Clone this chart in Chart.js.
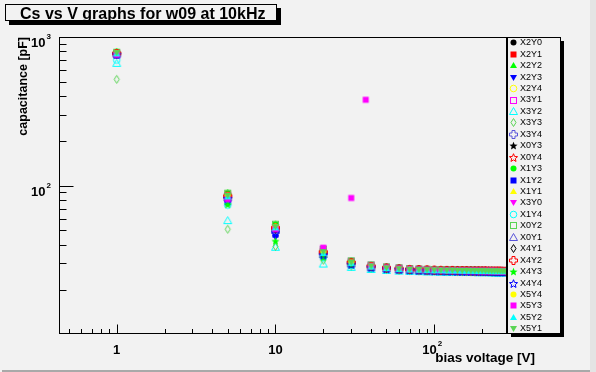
<!DOCTYPE html>
<html><head><meta charset="utf-8">
<script src="https://cdn.jsdelivr.net/npm/chart.js@4"></script>
<style>
html,body{margin:0;padding:0;background:#f2f2f2;}
#wrap{position:relative;width:596px;height:372px;overflow:hidden;}
canvas{display:block;}
</style></head><body>
<div id="wrap"><canvas id="c" width="596" height="372"></canvas></div>
<script>
// ---------------- data ----------------
const chartTitle = "Cs vs V graphs for w09 at 10kHz";
const xTitle = "bias voltage [V]";
const yTitle = "capacitance [pF]";

const voltages = [1,5,10,20,30,40,50,60,70,80,90,100,110,120,130,140,150,160,170,180,190,200,210,220,230,240,250,260,270,280];
const voltagesX5Y3 = [1,5,10,20,30,37,40,50,60,70,80,90,100,110,120,130,140,150,160,170,180,190,200,210,220,230,240,250,260,270,280];

const seriesNames = ["X2Y0","X2Y1","X2Y2","X2Y3","X2Y4","X3Y1","X3Y2","X3Y3","X3Y4","X0Y3","X0Y4","X1Y3","X1Y2","X1Y1","X3Y0","X1Y4","X0Y2","X0Y1","X4Y1","X4Y2","X4Y3","X4Y4","X5Y4","X5Y3","X5Y2","X5Y1"];

const X2Y0 = [775,86,53,36.0,30.5,28.9,28.1,27.7,27.5,27.3,27.2,27.1,27.0,27.0,26.9,26.9,26.9,26.8,26.8,26.8,26.8,26.7,26.7,26.7,26.7,26.7,26.6,26.6,26.6,26.6];
const X2Y1 = [780,88,54,36.5,30.6,28.8,27.9,27.4,27.1,26.9,26.8,26.7,26.6,26.6,26.5,26.5,26.5,26.4,26.4,26.4,26.4,26.3,26.3,26.3,26.3,26.3,26.3,26.2,26.2,26.2];
const X2Y2 = [800,90,55,37.0,31.0,29.0,28.2,27.8,27.5,27.4,27.3,27.2,27.1,27.1,27.0,27.0,27.0,26.9,26.9,26.9,26.9,26.8,26.8,26.8,26.8,26.8,26.7,26.7,26.7,26.7];
const X2Y3 = [760,76,45,33.2,29.0,27.8,27.3,27.0,26.8,26.7,26.6,26.5,26.5,26.4,26.4,26.4,26.3,26.3,26.3,26.3,26.2,26.2,26.2,26.2,26.2,26.1,26.1,26.1,26.1,26.1];
const X2Y4 = [770,84,52,35.5,30.2,28.6,27.9,27.5,27.3,27.2,27.1,27.0,27.0,26.9,26.9,26.8,26.8,26.8,26.8,26.7,26.7,26.7,26.7,26.6,26.6,26.6,26.6,26.6,26.5,26.5];
const X3Y1 = [760,82,54,37.5,31.0,29.2,28.3,27.9,27.6,27.4,27.3,27.2,27.2,27.1,27.1,27.0,27.0,27.0,26.9,26.9,26.9,26.9,26.8,26.8,26.8,26.8,26.8,26.7,26.7,26.7];
const X3Y2 = [665,58.2,38.5,29.7,28.2,27.3,26.9,26.6,26.5,26.4,26.3,26.3,26.2,26.2,26.2,26.1,26.1,26.1,26.1,26.0,26.0,26.0,26.0,26.0,25.9,25.9,25.9,25.9,25.9,25.9];
const X3Y3 = [519,50.9,39.0,31.5,28.8,27.8,27.3,27.0,26.9,26.8,26.7,26.7,26.6,26.6,26.6,26.5,26.5,26.5,26.5,26.4,26.4,26.4,26.4,26.4,26.3,26.3,26.3,26.3,26.3,26.3];
const X3Y4 = [765,83,50,34.8,29.9,28.4,27.8,27.4,27.2,27.0,26.9,26.9,26.8,26.8,26.8,26.7,26.7,26.7,26.6,26.6,26.6,26.6,26.6,26.5,26.5,26.5,26.5,26.5,26.5,26.4];
const X0Y3 = [785,87,54,36.2,30.7,28.9,28.1,27.7,27.4,27.3,27.2,27.1,27.1,27.0,27.0,26.9,26.9,26.9,26.9,26.8,26.8,26.8,26.8,26.7,26.7,26.7,26.7,26.7,26.6,26.6];
const X0Y4 = [770,85,52,35.8,30.4,28.7,28.0,27.6,27.4,27.2,27.1,27.0,27.0,26.9,26.9,26.9,26.8,26.8,26.8,26.7,26.7,26.7,26.7,26.7,26.6,26.6,26.6,26.6,26.6,26.5];
const X1Y3 = [795,89,55,37.0,31.2,29.2,28.3,27.9,27.6,27.4,27.3,27.2,27.2,27.1,27.1,27.0,27.0,27.0,27.0,26.9,26.9,26.9,26.9,26.8,26.8,26.8,26.8,26.8,26.7,26.7];
const X1Y2 = [755,77,47,33.8,29.3,28.0,27.4,27.1,26.9,26.8,26.7,26.6,26.6,26.5,26.5,26.5,26.4,26.4,26.4,26.4,26.3,26.3,26.3,26.3,26.3,26.2,26.2,26.2,26.2,26.2];
const X1Y1 = [775,85,53,36.0,30.4,28.8,28.0,27.6,27.4,27.2,27.1,27.0,27.0,26.9,26.9,26.9,26.8,26.8,26.8,26.8,26.7,26.7,26.7,26.7,26.6,26.6,26.6,26.6,26.6,26.6];
const X3Y0 = [790,87,53,36.6,30.8,29.0,28.2,27.8,27.5,27.3,27.2,27.1,27.1,27.0,27.0,26.9,26.9,26.9,26.9,26.8,26.8,26.8,26.8,26.8,26.7,26.7,26.7,26.7,26.7,26.6];
const X1Y4 = [700,74,50,33.0,29.0,27.8,27.2,26.9,26.7,26.6,26.5,26.4,26.4,26.3,26.3,26.3,26.2,26.2,26.2,26.2,26.1,26.1,26.1,26.1,26.1,26.0,26.0,26.0,26.0,26.0];
const X0Y2 = [790,89,55,37.2,31.2,29.3,28.4,28.0,27.7,27.5,27.4,27.3,27.2,27.2,27.1,27.1,27.1,27.0,27.0,27.0,27.0,26.9,26.9,26.9,26.9,26.9,26.8,26.8,26.8,26.8];
const X0Y1 = [770,83,50,34.5,29.8,28.3,27.7,27.3,27.1,27.0,26.9,26.8,26.8,26.7,26.7,26.7,26.6,26.6,26.6,26.6,26.5,26.5,26.5,26.5,26.5,26.4,26.4,26.4,26.4,26.4];
const X4Y1 = [770,84,51,35.2,30.1,28.5,27.8,27.5,27.2,27.1,27.0,26.9,26.9,26.8,26.8,26.8,26.7,26.7,26.7,26.7,26.6,26.6,26.6,26.6,26.6,26.5,26.5,26.5,26.5,26.5];
const X4Y2 = [775,85,52,35.6,30.3,28.6,27.9,27.5,27.3,27.2,27.1,27.0,26.9,26.9,26.9,26.8,26.8,26.8,26.7,26.7,26.7,26.7,26.7,26.6,26.6,26.6,26.6,26.6,26.5,26.5];
const X4Y3 = [770,75,42.5,33.0,29.4,28.2,27.6,27.3,27.1,27.0,26.9,26.8,26.8,26.7,26.7,26.7,26.6,26.6,26.6,26.6,26.5,26.5,26.5,26.5,26.5,26.4,26.4,26.4,26.4,26.4];
const X4Y4 = [765,82,48,34.2,29.6,28.2,27.6,27.3,27.1,26.9,26.8,26.7,26.7,26.6,26.6,26.6,26.5,26.5,26.5,26.5,26.4,26.4,26.4,26.4,26.4,26.3,26.3,26.3,26.3,26.3];
const X5Y4 = [780,86,53,36.2,30.5,28.8,28.0,27.6,27.4,27.2,27.1,27.0,27.0,26.9,26.9,26.9,26.8,26.8,26.8,26.8,26.7,26.7,26.7,26.7,26.7,26.6,26.6,26.6,26.6,26.6];
const X5Y3 = [760,81,51,38.2,82.6,378,28.7,28.0,27.6,27.4,27.2,27.1,27.0,26.9,26.9,26.8,26.8,26.8,26.7,26.7,26.7,26.7,26.6,26.6,26.6,26.6,26.6,26.5,26.5,26.5,26.5];
const X5Y2 = [770,84,52,35.0,30.0,28.4,27.7,27.3,27.1,27.0,26.9,26.8,26.8,26.7,26.7,26.7,26.6,26.6,26.6,26.5,26.5,26.5,26.5,26.5,26.4,26.4,26.4,26.4,26.4,26.4];
const X5Y1 = [785,86,53,36.0,30.5,28.8,28.0,27.6,27.4,27.3,27.2,27.1,27.0,27.0,27.0,26.9,26.9,26.9,26.8,26.8,26.8,26.8,26.7,26.7,26.7,26.7,26.7,26.6,26.6,26.6];

const seriesValues = [X2Y0,X2Y1,X2Y2,X2Y3,X2Y4,X3Y1,X3Y2,X3Y3,X3Y4,X0Y3,X0Y4,X1Y3,X1Y2,X1Y1,X3Y0,X1Y4,X0Y2,X0Y1,X4Y1,X4Y2,X4Y3,X4Y4,X5Y4,X5Y3,X5Y2,X5Y1];
const seriesVoltages = seriesNames.map(n => n === "X5Y3" ? voltagesX5Y3 : voltages);

// axis ticks
const xMajorTicks = [1, 10, 100];
const xMajorLabels = ["1", "10", "10^2"];
const xMinorTicks = [0.5,0.6,0.7,0.8,0.9,2,3,4,5,6,7,8,9,20,30,40,50,60,70,80,90,200];
const yMajorTicks = [100, 1000];
const yMajorLabels = ["10^2", "10^3"];
const yMinorTicks = [20,30,40,50,60,70,80,90,200,300,400,500,600,700,800,900];

// ---------------- styles ----------------
const rootColors = ['#000000','#ff0000','#00ff00','#0000ff','#ffff00','#ff00ff','#00ffff','#59d454','#5954d9'];
const rootMarkers = ['fcircle','fsquare','ftriup','ftridown','ocircle','osquare','otriup','odiamond','ocross','fstar','ostar'];
const FONT = '"Liberation Sans", Arial, Helvetica, sans-serif';

function makeMarker(type, color){
  const s = 11, c = document.createElement('canvas');
  c.width = s; c.height = s;
  const g = c.getContext('2d');
  const m = 5.5;
  g.fillStyle = color; g.strokeStyle = color; g.lineWidth = 1;
  g.beginPath();
  const star = (ro, ri) => {
    for (let k = 0; k < 10; k++) {
      const r = k % 2 ? ri : ro;
      const a = -Math.PI/2 + k*Math.PI/5;
      const px = m + r*Math.cos(a), py = m + 0.5 + r*Math.sin(a);
      if (k === 0) g.moveTo(px, py); else g.lineTo(px, py);
    }
    g.closePath();
  };
  switch(type){
    case 'fcircle': g.arc(m, m, 3, 0, 2*Math.PI); g.fill(); break;
    case 'fsquare': g.fillRect(2.5, 2.5, 6, 6); break;
    case 'ftriup': g.moveTo(m, 2); g.lineTo(9, 8); g.lineTo(2, 8); g.closePath(); g.fill(); break;
    case 'ftridown': g.moveTo(2, 3); g.lineTo(9, 3); g.lineTo(m, 9); g.closePath(); g.fill(); break;
    case 'ocircle': g.arc(m, m, 3.3, 0, 2*Math.PI); g.stroke(); break;
    case 'osquare': g.strokeRect(2.5, 2.5, 6, 6); break;
    case 'otriup': g.moveTo(m, 1.5); g.lineTo(9.5, 8.5); g.lineTo(1.5, 8.5); g.closePath(); g.stroke(); break;
    case 'odiamond': g.moveTo(m, 1.5); g.lineTo(8, m); g.lineTo(m, 9.5); g.lineTo(3, m); g.closePath(); g.stroke(); break;
    case 'ocross': {
      const a = 1.5, r = 4;
      const pts = [[-a,-r],[a,-r],[a,-a],[r,-a],[r,a],[a,a],[a,r],[-a,r],[-a,a],[-r,a],[-r,-a],[-a,-a]];
      pts.forEach((p,k)=>{ if(k===0) g.moveTo(m+p[0], m+p[1]); else g.lineTo(m+p[0], m+p[1]); });
      g.closePath(); g.stroke(); break;
    }
    case 'fstar': star(4.3, 1.9); g.fill(); break;
    case 'ostar': star(4.3, 1.9); g.stroke(); break;
  }
  return c;
}

const N = seriesNames.length;
const markerImgs = seriesNames.map((n, i) => makeMarker(rootMarkers[i % 11], rootColors[i % 9]));

const datasets = seriesNames.map((name, i) => ({
  label: name,
  data: seriesVoltages[i].map((v, k) => ({x: v, y: seriesValues[i][k]})),
  showLine: false,
  pointStyle: markerImgs[i],
  pointRadius: 3,
  pointHoverRadius: 3,
  order: N - i
}));

function drawSup(ctx, base, sup, x, y, align){
  ctx.font = 'bold 13px ' + FONT;
  const wb = ctx.measureText(base).width;
  ctx.font = 'bold 8px ' + FONT;
  const ws = sup ? ctx.measureText(sup).width + 1 : 0;
  const total = wb + ws;
  let left = align === 'right' ? x - total : x - total/2;
  ctx.textAlign = 'left';
  ctx.textBaseline = 'alphabetic';
  ctx.font = 'bold 13px ' + FONT;
  ctx.fillText(base, left, y);
  if (sup) { ctx.font = 'bold 8px ' + FONT; ctx.fillText(sup, left + wb + 1, y - 8); }
}

const rootPlugin = {
  id: 'rootStyle',
  beforeDraw(chart){
    const ctx = chart.ctx;
    ctx.save();
    ctx.fillStyle = '#f2f2f2';
    ctx.fillRect(0, 0, chart.width, chart.height);
    ctx.restore();
  },
  afterDraw(chart){
    const ctx = chart.ctx;
    const xs = chart.scales.x, ys = chart.scales.y;
    const a = chart.chartArea;
    const L = Math.round(a.left) + 0.5, R = Math.round(a.right) + 0.5;
    const T = Math.round(a.top) + 0.5, B = Math.round(a.bottom) + 0.5;
    ctx.save();
    // frame
    ctx.strokeStyle = '#000'; ctx.lineWidth = 1;
    ctx.strokeRect(L, T, R - L, B - T);
    // ticks
    ctx.beginPath();
    xMajorTicks.forEach(v => { const px = Math.round(xs.getPixelForValue(v)) + 0.5; ctx.moveTo(px, B); ctx.lineTo(px, B - 9); });
    xMinorTicks.forEach(v => { const px = Math.round(xs.getPixelForValue(v)) + 0.5; ctx.moveTo(px, B); ctx.lineTo(px, B - 4.5); });
    yMajorTicks.forEach(v => { const py = Math.round(ys.getPixelForValue(v)) + 0.5; ctx.moveTo(L, py); ctx.lineTo(L + 14, py); });
    yMinorTicks.forEach(v => { const py = Math.round(ys.getPixelForValue(v)) + 0.5; ctx.moveTo(L, py); ctx.lineTo(L + 7, py); });
    ctx.stroke();
    // tick labels
    ctx.fillStyle = '#000';
    xMajorTicks.forEach((v, k) => {
      const parts = xMajorLabels[k].split('^');
      drawSup(ctx, parts[0], parts[1], xs.getPixelForValue(v) - (parts[1] ? 2 : 0), B + 20, 'center');
    });
    yMajorTicks.forEach((v, k) => {
      const parts = yMajorLabels[k].split('^');
      drawSup(ctx, parts[0], parts[1], 51, ys.getPixelForValue(v) + 10, 'right');
    });
    // axis titles
    ctx.font = 'bold 13.5px ' + FONT;
    ctx.textAlign = 'right'; ctx.textBaseline = 'alphabetic';
    ctx.fillText(xTitle, 535, 362);
    ctx.save();
    ctx.font = 'bold 12.5px ' + FONT;
    ctx.translate(27, a.top);
    ctx.rotate(-Math.PI/2);
    ctx.textAlign = 'right';
    ctx.fillText(yTitle, 0, 0);
    ctx.restore();

    // title box
    ctx.fillStyle = '#000';
    ctx.fillRect(9, 8, 272, 17);
    ctx.fillStyle = '#f2f2f2';
    ctx.fillRect(5, 4, 272, 17);
    ctx.strokeStyle = '#000';
    ctx.strokeRect(5.5, 4.5, 271, 16);
    ctx.fillStyle = '#000';
    ctx.font = 'bold 16px ' + FONT;
    ctx.textAlign = 'left';
    ctx.fillText(chartTitle, 20, 18.5);

    // legend
    const lx = Math.round(a.right) + 1, ly = Math.round(a.top), lw = 53, lh = Math.round(a.bottom - a.top);
    ctx.fillStyle = '#000';
    ctx.fillRect(lx + 4, ly + 4, lw, lh);
    ctx.fillStyle = '#f2f2f2';
    ctx.fillRect(lx, ly, lw, lh);
    ctx.strokeStyle = '#000';
    ctx.strokeRect(lx + 0.5, ly + 0.5, lw, lh);
    const step = (lh - 10) / (N - 1);
    ctx.font = '9px ' + FONT;
    ctx.textAlign = 'left'; ctx.textBaseline = 'middle';
    seriesNames.forEach((n, i) => {
      const cy = ly + 5.3 + i * step;
      const img = markerImgs[i];
      ctx.drawImage(img, lx + 6.5 - img.width/2, Math.round(cy) - img.height/2 + 0.5);
      ctx.fillStyle = '#000';
      ctx.fillText(n, lx + 13, cy + 0.5);
    });

    // canvas bevel
    ctx.fillStyle = '#e4e4e4';
    ctx.fillRect(590, 0, 6, chart.height);
    ctx.fillStyle = '#a9a9a9';
    ctx.fillRect(2, 370, 588, 2);
    ctx.restore();
  }
};

new Chart(document.getElementById('c').getContext('2d'), {
  type: 'scatter',
  data: { datasets },
  options: {
    responsive: false,
    animation: false,
    devicePixelRatio: 1,
    events: [],
    layout: { padding: { left: 0, top: 37, right: 90, bottom: 0 } },
    plugins: { legend: { display: false }, tooltip: { enabled: false }, title: { display: false } },
    scales: {
      x: {
        type: 'logarithmic', min: 0.433, max: 283,
        ticks: { display: false }, grid: { display: false }, border: { display: false },
        afterFit(s){ s.height = 39; }
      },
      y: {
        type: 'logarithmic', min: 10.2, max: 1000,
        ticks: { display: false }, grid: { display: false }, border: { display: false },
        afterFit(s){ s.width = 59; }
      }
    }
  },
  plugins: [rootPlugin]
});
</script>
</body></html>
